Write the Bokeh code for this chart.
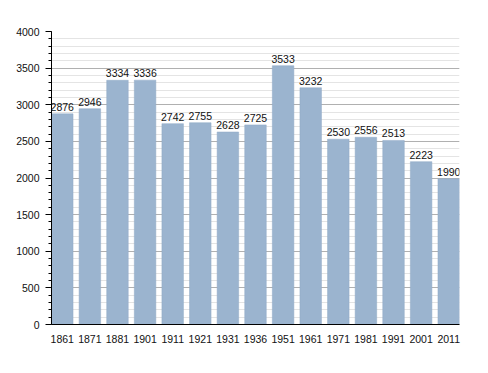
from bokeh.plotting import figure
from bokeh.models import ColumnDataSource, FixedTicker, Range1d
from bokeh.embed import file_html
from bokeh.resources import INLINE
from bokeh.core.properties import value

years = ["1861", "1871", "1881", "1901", "1911", "1921", "1931", "1936",
         "1951", "1961", "1971", "1981", "1991", "2001", "2011"]
population = [2876, 2946, 3334, 3336, 2742, 2755, 2628, 2725,
              3533, 3232, 2530, 2556, 2513, 2223, 1990]

xs = list(range(len(years)))
src = ColumnDataSource(dict(x=xs, y=population, label=[str(v) for v in population]))

W = 0.78
p = figure(width=472, height=357, output_backend="svg", toolbar_location=None,
           x_range=Range1d(-W / 2, len(years) - 1 + W / 2), y_range=Range1d(0, 4000),
           min_border_left=51, min_border_right=13, min_border_top=31, min_border_bottom=33)
p.outline_line_color = None

p.vbar(x="x", top="y", width=W, source=src, fill_color="#9bb4cf", line_color="#90aac6", line_width=0.5)
p.text(x="x", y="y", text="label", source=src, text_align="center", text_baseline="bottom",
       y_offset=-3, text_font=value("Liberation Sans"), text_font_size="10.5px", text_color="#111111")

p.xaxis.ticker = FixedTicker(ticks=xs)
p.xaxis.major_label_overrides = {i: y for i, y in enumerate(years)}
p.xaxis.major_tick_line_color = None
p.xaxis.minor_tick_line_color = None
p.xaxis.axis_line_color = "black"
p.xaxis.major_label_standoff = 4

p.yaxis.ticker = FixedTicker(ticks=list(range(0, 4001, 500)), minor_ticks=list(range(0, 4001, 100)))
p.yaxis.axis_line_color = "black"
p.yaxis.major_tick_line_color = "black"
p.yaxis.minor_tick_line_color = "black"
p.yaxis.major_tick_out = 6
p.yaxis.major_tick_in = 0
p.yaxis.minor_tick_out = 3
p.yaxis.minor_tick_in = 0
p.yaxis.major_label_standoff = 6

for ax in (p.xaxis, p.yaxis):
    ax.major_label_text_font = "Liberation Sans"
    ax.major_label_text_font_size = "10.5px"
    ax.major_label_text_color = "#111111"

p.xgrid.grid_line_color = None
p.ygrid.grid_line_color = "#b0b0b0"
p.ygrid.minor_grid_line_color = "#e4e4e4"
p.ygrid.level = "underlay"

open("out.html", "w").write(file_html(p, INLINE))
